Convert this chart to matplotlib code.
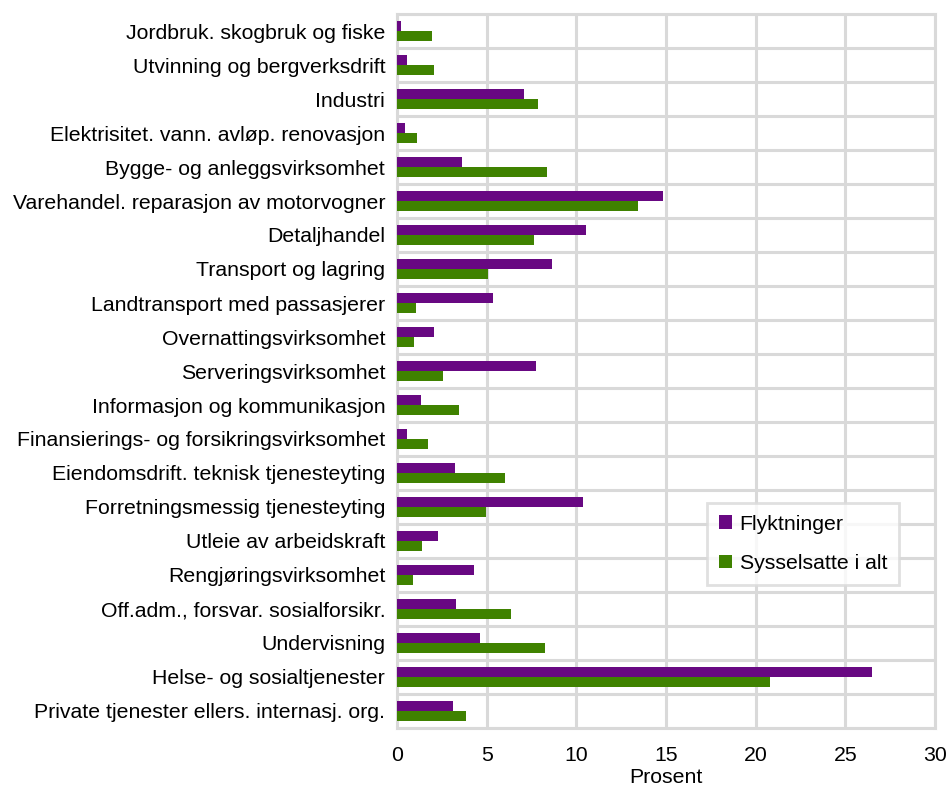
import numpy as np
from matplotlib import pyplot as plt, ticker

plt.rcParams['font.family'] = ['Liberation Sans', 'DejaVu Sans']

categories = [
    'Jordbruk. skogbruk og fiske',
    'Utvinning og bergverksdrift',
    'Industri',
    'Elektrisitet. vann. avløp. renovasjon',
    'Bygge- og anleggsvirksomhet',
    'Varehandel. reparasjon av motorvogner',
    'Detaljhandel',
    'Transport og lagring',
    'Landtransport med passasjerer',
    'Overnattingsvirksomhet',
    'Serveringsvirksomhet',
    'Informasjon og kommunikasjon',
    'Finansierings- og forsikringsvirksomhet',
    'Eiendomsdrift. teknisk tjenesteyting',
    'Forretningsmessig tjenesteyting',
    'Utleie av arbeidskraft',
    'Rengjøringsvirksomhet',
    'Off.adm., forsvar. sosialforsikr.',
    'Undervisning',
    'Helse- og sosialtjenester',
    'Private tjenester ellers. internasj. org.',
]
flyktninger = [0.25, 0.55, 7.1, 0.45, 3.65, 14.85, 10.55, 8.65, 5.35, 2.05, 7.75,
               1.35, 0.55, 3.25, 10.35, 2.3, 4.3, 3.3, 4.65, 26.5, 3.1]
sysselsatte = [1.95, 2.05, 7.85, 1.1, 8.35, 13.45, 7.65, 5.05, 1.05, 0.95, 2.55,
               3.45, 1.75, 6.05, 4.95, 1.4, 0.9, 6.35, 8.25, 20.8, 3.85]

PURPLE = '#680882'
GREEN = '#3f8200'
GRID = '#d9d9d9'
FS = 15.3

fig = plt.figure(figsize=(9.5, 7.87), dpi=100)
ax = fig.add_axes([397 / 950, 1 - 728 / 787, (935 - 397) / 950, (728 - 14) / 787])

y = np.arange(len(categories))
h = 0.3
ax.barh(y - h / 2, flyktninger, height=h, color=PURPLE, label='Flyktninger', zorder=3)
ax.barh(y + h / 2, sysselsatte, height=h, color=GREEN, label='Sysselsatte i alt', zorder=3)

ax.set_xlim(0, 30)
ax.set_ylim(len(categories) - 0.5, -0.5)
ax.xaxis.set_major_locator(ticker.MultipleLocator(5))
ax.set_yticks(y)
ax.set_yticklabels(categories, fontsize=FS)
ax.set_yticks(np.arange(-0.5, len(categories), 1), minor=True)
ax.tick_params(axis='x', labelsize=FS, length=0, pad=13)
ax.tick_params(axis='y', which='both', length=0, pad=8.5)

ax.grid(axis='x', which='major', color=GRID, linewidth=2.2, zorder=0)
ax.grid(axis='y', which='minor', color=GRID, linewidth=2.2, zorder=0)
for s in ax.spines.values():
    s.set_color(GRID)
    s.set_linewidth(2.2)

ax.set_xlabel('Prosent', fontsize=FS, labelpad=2)

leg = ax.legend(loc='upper left', bbox_to_anchor=(0.577, 0.315), fontsize=FS,
                frameon=True, fancybox=False, edgecolor=GRID, handlelength=0.62,
                handleheight=0.62, handletextpad=0.35, labelspacing=0.95,
                borderpad=0.55, borderaxespad=0)
leg.get_frame().set_linewidth(2)

fig.savefig('out.png', dpi=100)
